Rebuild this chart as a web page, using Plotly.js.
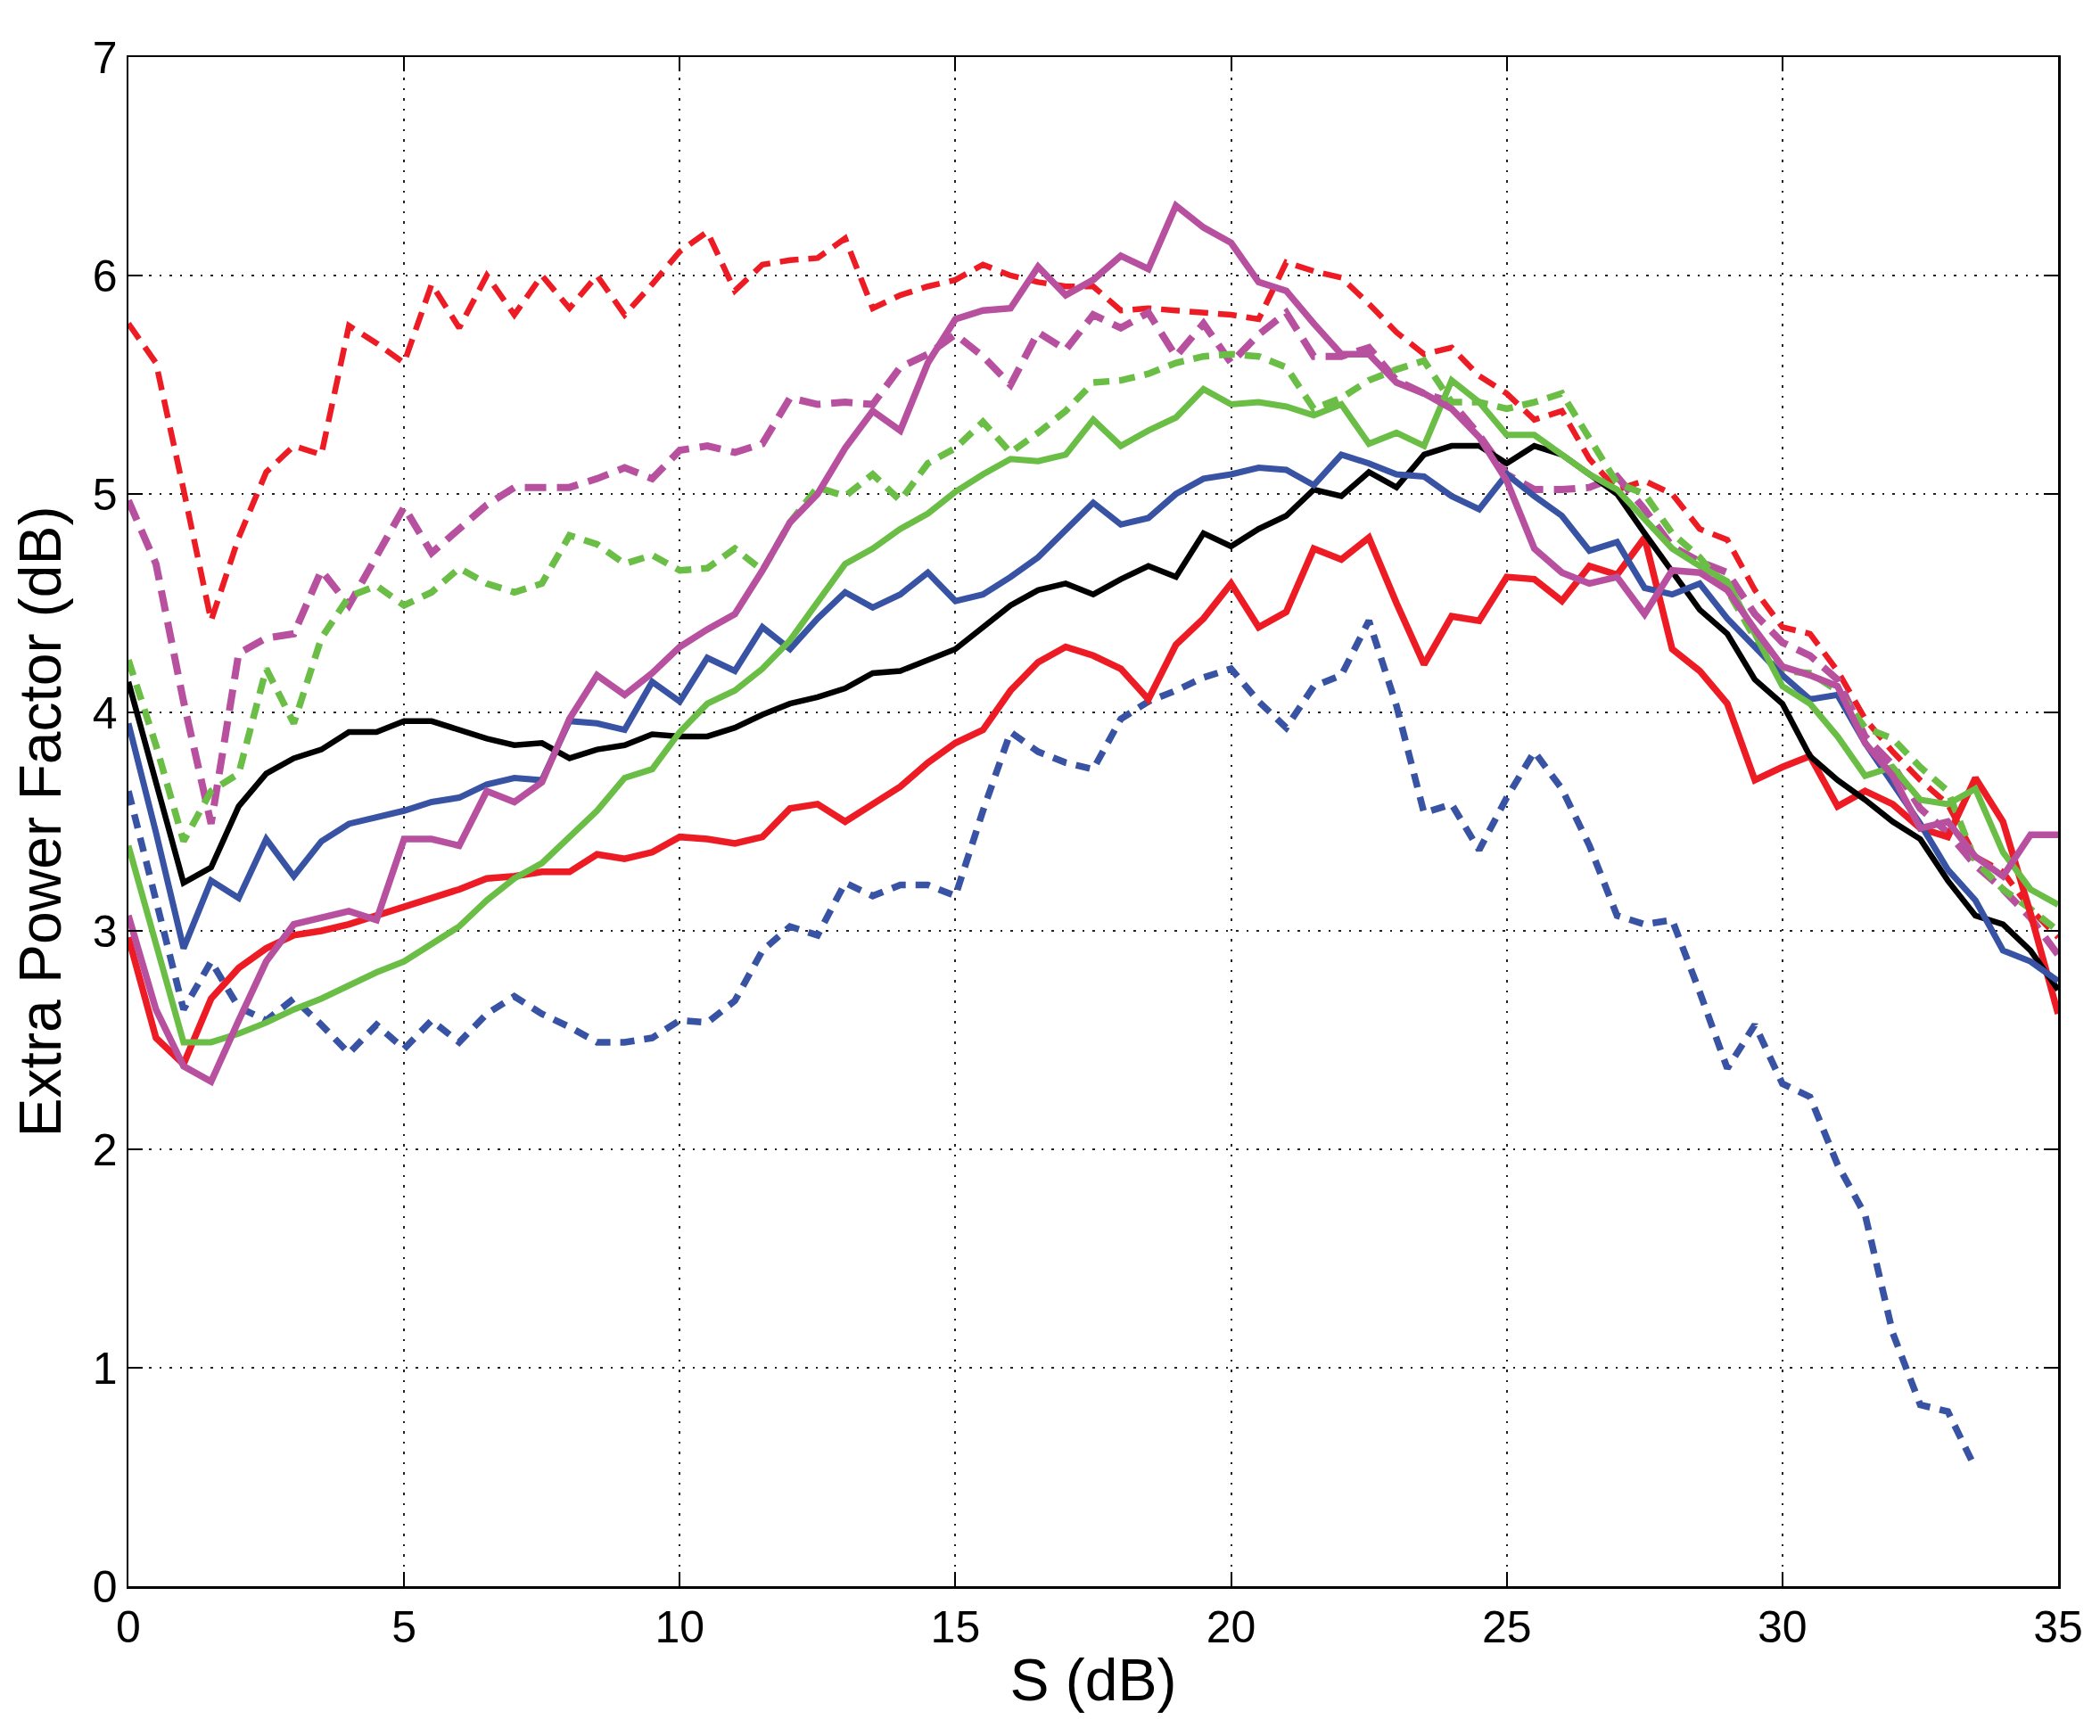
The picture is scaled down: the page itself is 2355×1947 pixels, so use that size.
<!DOCTYPE html>
<html>
<head>
<meta charset="utf-8">
<script src="https://cdn.plot.ly/plotly-3.0.1.min.js"></script>
<style>
  html, body { margin: 0; padding: 0; background: #fff; }
  #chart { width: 2355px; height: 1947px; }
</style>
</head>
<body>
<div id="chart"></div>
<script>
// S (dB) sample points
const sDb = [0, 0.5, 1, 1.5, 2, 2.5, 3, 3.5, 4, 4.5, 5, 5.5, 6, 6.5, 7, 7.5, 8, 8.5, 9, 9.5,
  10, 10.5, 11, 11.5, 12, 12.5, 13, 13.5, 14, 14.5, 15, 15.5, 16, 16.5, 17, 17.5, 18, 18.5, 19, 19.5,
  20, 20.5, 21, 21.5, 22, 22.5, 23, 23.5, 24, 24.5, 25, 25.5, 26, 26.5, 27, 27.5, 28, 28.5, 29, 29.5,
  30, 30.5, 31, 31.5, 32, 32.5, 33, 33.5, 34, 34.5, 35];

// solid curves
const blackSolid = [4.14, 3.68, 3.22, 3.29, 3.57, 3.72, 3.79, 3.83, 3.91, 3.91, 3.96, 3.96, 3.92, 3.88, 3.85, 3.86, 3.79, 3.83, 3.85, 3.90,
  3.89, 3.89, 3.93, 3.99, 4.04, 4.07, 4.11, 4.18, 4.19, 4.24, 4.29, 4.39, 4.49, 4.56, 4.59, 4.54, 4.61, 4.67, 4.62, 4.82,
  4.76, 4.84, 4.90, 5.02, 4.99, 5.10, 5.03, 5.18, 5.22, 5.22, 5.14, 5.22, 5.18, 5.09, 5.00, 4.82, 4.64, 4.47, 4.36, 4.15,
  4.04, 3.80, 3.69, 3.60, 3.50, 3.42, 3.23, 3.07, 3.03, 2.91, 2.73];

const blueSolid = [3.95, 3.45, 2.92, 3.23, 3.15, 3.42, 3.25, 3.41, 3.49, 3.52, 3.55, 3.59, 3.61, 3.67, 3.70, 3.69, 3.96, 3.95, 3.92, 4.14,
  4.05, 4.25, 4.19, 4.39, 4.29, 4.43, 4.55, 4.48, 4.54, 4.64, 4.51, 4.54, 4.62, 4.71, 4.84, 4.96, 4.86, 4.89, 5.00, 5.07,
  5.09, 5.12, 5.11, 5.04, 5.18, 5.14, 5.09, 5.08, 4.99, 4.93, 5.09, 4.99, 4.90, 4.74, 4.78, 4.57, 4.54, 4.59, 4.43, 4.30,
  4.17, 4.06, 4.08, 3.86, 3.67, 3.49, 3.28, 3.14, 2.91, 2.86, 2.77];

const redSolid = [2.97, 2.51, 2.39, 2.69, 2.83, 2.92, 2.98, 3.00, 3.03, 3.07, 3.11, 3.15, 3.19, 3.24, 3.25, 3.27, 3.27, 3.35, 3.33, 3.36,
  3.43, 3.42, 3.40, 3.43, 3.56, 3.58, 3.50, 3.58, 3.66, 3.77, 3.86, 3.92, 4.10, 4.23, 4.30, 4.26, 4.20, 4.06, 4.31, 4.43,
  4.59, 4.39, 4.46, 4.75, 4.70, 4.80, 4.50, 4.22, 4.44, 4.42, 4.62, 4.61, 4.51, 4.67, 4.63, 4.80, 4.29, 4.19, 4.04, 3.69,
  3.75, 3.80, 3.57, 3.64, 3.58, 3.47, 3.43, 3.70, 3.50, 3.08, 2.62];

const greenSolid = [3.39, 2.94, 2.49, 2.49, 2.53, 2.58, 2.64, 2.69, 2.75, 2.81, 2.86, 2.94, 3.02, 3.14, 3.24, 3.31, 3.43, 3.55, 3.70, 3.74,
  3.91, 4.04, 4.10, 4.20, 4.33, 4.51, 4.68, 4.75, 4.84, 4.91, 5.01, 5.09, 5.16, 5.15, 5.18, 5.34, 5.22, 5.29, 5.35, 5.48,
  5.41, 5.42, 5.40, 5.36, 5.41, 5.23, 5.28, 5.22, 5.52, 5.42, 5.27, 5.27, 5.18, 5.09, 5.02, 4.88, 4.75, 4.67, 4.60, 4.36,
  4.12, 4.04, 3.89, 3.71, 3.75, 3.60, 3.58, 3.65, 3.36, 3.19, 3.12];

const magentaSolid = [3.07, 2.64, 2.38, 2.31, 2.59, 2.86, 3.03, 3.06, 3.09, 3.05, 3.42, 3.42, 3.39, 3.64, 3.59, 3.68, 3.97, 4.17, 4.08, 4.18,
  4.30, 4.38, 4.45, 4.65, 4.87, 5.00, 5.21, 5.38, 5.29, 5.60, 5.80, 5.84, 5.85, 6.04, 5.91, 5.98, 6.09, 6.03, 6.32, 6.22,
  6.15, 5.97, 5.93, 5.78, 5.64, 5.64, 5.51, 5.46, 5.39, 5.26, 5.06, 4.75, 4.64, 4.59, 4.62, 4.45, 4.65, 4.64, 4.56, 4.38,
  4.21, 4.17, 4.12, 3.86, 3.71, 3.47, 3.50, 3.34, 3.25, 3.44, 3.44];

// dashed curves
const blueDashed = [3.64, 3.14, 2.64, 2.86, 2.65, 2.59, 2.69, 2.57, 2.44, 2.57, 2.46, 2.59, 2.49, 2.62, 2.70, 2.62, 2.56, 2.49, 2.49, 2.51,
  2.59, 2.58, 2.68, 2.91, 3.02, 2.98, 3.22, 3.16, 3.21, 3.21, 3.16, 3.55, 3.91, 3.82, 3.77, 3.74, 3.97, 4.05, 4.10, 4.16,
  4.20, 4.05, 3.93, 4.12, 4.17, 4.42, 4.03, 3.54, 3.58, 3.37, 3.61, 3.82, 3.65, 3.39, 3.07, 3.03, 3.05, 2.72, 2.37, 2.57,
  2.30, 2.24, 1.93, 1.70, 1.16, 0.83, 0.80, 0.54];

const redDashed = [5.78, 5.60, 5.02, 4.42, 4.80, 5.10, 5.22, 5.18, 5.77, 5.69, 5.60, 5.96, 5.76, 6.00, 5.82, 6.00, 5.85, 6.00, 5.82, 5.96,
  6.11, 6.20, 5.93, 6.05, 6.07, 6.08, 6.17, 5.85, 5.91, 5.95, 5.98, 6.05, 6.00, 5.97, 5.95, 5.95, 5.84, 5.85, 5.84, 5.83,
  5.82, 5.80, 6.06, 6.02, 5.99, 5.87, 5.74, 5.64, 5.67, 5.54, 5.46, 5.34, 5.38, 5.16, 5.02, 5.06, 5.00, 4.84, 4.79, 4.56,
  4.39, 4.36, 4.19, 3.97, 3.82, 3.69, 3.58, 3.34, 3.27, 3.10, 2.97];

const greenDashed = [4.24, 3.85, 3.41, 3.64, 3.72, 4.20, 3.95, 4.34, 4.53, 4.58, 4.49, 4.55, 4.66, 4.59, 4.55, 4.59, 4.81, 4.77, 4.68, 4.72,
  4.65, 4.66, 4.75, 4.65, 4.87, 5.03, 4.99, 5.09, 4.97, 5.14, 5.21, 5.33, 5.19, 5.28, 5.38, 5.51, 5.52, 5.55, 5.60, 5.63,
  5.64, 5.63, 5.58, 5.39, 5.44, 5.52, 5.57, 5.61, 5.42, 5.42, 5.39, 5.42, 5.46, 5.25, 5.05, 5.00, 4.82, 4.71, 4.56, 4.34,
  4.19, 4.18, 4.10, 3.93, 3.88, 3.75, 3.64, 3.32, 3.19, 3.10, 3.00];

const magentaDashed = [4.97, 4.68, 4.05, 3.49, 4.27, 4.34, 4.36, 4.65, 4.49, 4.72, 4.94, 4.73, 4.84, 4.95, 5.03, 5.03, 5.03, 5.07, 5.12, 5.07,
  5.20, 5.22, 5.19, 5.23, 5.44, 5.41, 5.42, 5.41, 5.58, 5.64, 5.73, 5.63, 5.50, 5.74, 5.66, 5.82, 5.76, 5.83, 5.63, 5.78,
  5.60, 5.73, 5.83, 5.63, 5.63, 5.67, 5.52, 5.46, 5.42, 5.27, 5.09, 5.02, 5.02, 5.03, 5.08, 4.93, 4.76, 4.69, 4.64, 4.45,
  4.32, 4.26, 4.15, 3.89, 3.76, 3.56, 3.45, 3.30, 3.19, 3.06, 2.89];

const RED = '#ed1c24', BLUE = '#3953a4', GREEN = '#6abd45', MAGENTA = '#b7519f', BLACK = '#000000';

function curve(y, color, w, dash) {
  return {
    x: sDb.slice(0, y.length), y: y, mode: 'lines', type: 'scatter',
    line: {color: color, width: w, dash: dash || 'solid'},
    hoverinfo: 'x+y', showlegend: false
  };
}

const traces = [
  curve(blueDashed, BLUE, 7.5, '16px,11px'),
  curve(redDashed, RED, 6.5, '21px,11px'),
  curve(magentaDashed, MAGENTA, 8, '24px,12px'),
  curve(greenDashed, GREEN, 7.5, '18px,11px'),
  curve(redSolid, RED, 7.5),
  curve(blackSolid, BLACK, 6.5),
  curve(blueSolid, BLUE, 7),
  curve(greenSolid, GREEN, 7),
  curve(magentaSolid, MAGENTA, 7.5)
];

const axisCommon = {
  showline: true, linecolor: '#000', linewidth: 2.5, mirror: 'ticks',
  ticks: 'inside', ticklen: 16, tickwidth: 2, tickcolor: '#000',
  showgrid: true, gridcolor: '#222', gridwidth: 2, griddash: '2.5px,9px',
  zeroline: false,
  tickfont: {family: 'Liberation Sans, Arial, sans-serif', size: 50, color: '#000'}
};

const layout = {
  width: 2355, height: 1947,
  margin: {l: 144, r: 47, t: 64, b: 168},
  paper_bgcolor: '#fff', plot_bgcolor: '#fff',
  font: {family: 'Liberation Sans, Arial, sans-serif', color: '#000'},
  xaxis: Object.assign({}, axisCommon, {
    range: [0, 35], dtick: 5, tick0: 0,
    title: {text: 'S (dB)', font: {size: 66, family: 'Liberation Sans, Arial, sans-serif'}, standoff: 10}
  }),
  yaxis: Object.assign({}, axisCommon, {
    range: [0, 7], dtick: 1, tick0: 0,
    title: {text: 'Extra Power Factor (dB)', font: {size: 66, family: 'Liberation Sans, Arial, sans-serif'}, standoff: 14}
  })
};

Plotly.newPlot('chart', traces, layout, {staticPlot: true, displayModeBar: false});
</script>
</body>
</html>
